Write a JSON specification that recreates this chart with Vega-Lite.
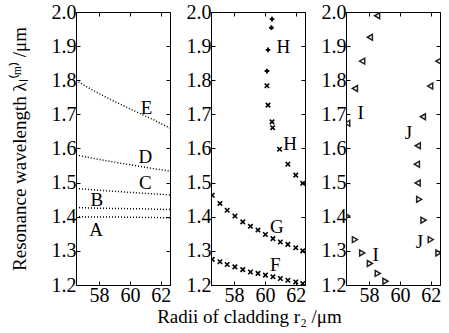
{
  "$schema": "https://vega.github.io/schema/vega-lite/v6.json",
  "padding": {"left": 9, "top": 1, "right": 2, "bottom": 2},
  "background": "white",
  "bounds": "flush",
  "config": {
    "font": "Liberation Serif",
    "view": {"stroke": "black", "strokeWidth": 1},
    "axis": {"grid": false, "labelFontSize": 20, "labelColor": "black", "domainColor": "black", "tickColor": "black", "tickSize": -4, "labelPadding": 4, "titleFontSize": 19, "titleFontWeight": "normal", "titleColor": "black", "labelFont": "Liberation Serif", "titleFont": "Liberation Serif"},
    "text": {"font": "Liberation Serif", "fontSize": 19},
    "point": {"opacity": 1}
  },
  "spacing": 41,
  "datasets": {
    "lines": [
      {"series": "E", "r": 56.5, "w": 1.800}, {"series": "E", "r": 57, "w": 1.786}, {"series": "E", "r": 57.5, "w": 1.773}, {"series": "E", "r": 58, "w": 1.761}, {"series": "E", "r": 58.5, "w": 1.749}, {"series": "E", "r": 59, "w": 1.738}, {"series": "E", "r": 59.5, "w": 1.727}, {"series": "E", "r": 60, "w": 1.716}, {"series": "E", "r": 60.5, "w": 1.706}, {"series": "E", "r": 61, "w": 1.695}, {"series": "E", "r": 61.5, "w": 1.685}, {"series": "E", "r": 62, "w": 1.673}, {"series": "E", "r": 62.6, "w": 1.660},
      {"series": "D", "r": 56.5, "w": 1.581}, {"series": "D", "r": 57.5, "w": 1.572}, {"series": "D", "r": 58.5, "w": 1.564}, {"series": "D", "r": 59.5, "w": 1.556}, {"series": "D", "r": 60.5, "w": 1.549}, {"series": "D", "r": 61.5, "w": 1.541}, {"series": "D", "r": 62.6, "w": 1.534},
      {"series": "C", "r": 56.5, "w": 1.483}, {"series": "C", "r": 57.5, "w": 1.479}, {"series": "C", "r": 58.5, "w": 1.476}, {"series": "C", "r": 59.5, "w": 1.473}, {"series": "C", "r": 60.5, "w": 1.470}, {"series": "C", "r": 61.5, "w": 1.467}, {"series": "C", "r": 62.6, "w": 1.464},
      {"series": "B", "r": 56.5, "w": 1.427}, {"series": "B", "r": 58, "w": 1.425}, {"series": "B", "r": 59.5, "w": 1.424}, {"series": "B", "r": 61, "w": 1.423}, {"series": "B", "r": 62.6, "w": 1.421},
      {"series": "A", "r": 56.5, "w": 1.400}, {"series": "A", "r": 58, "w": 1.399}, {"series": "A", "r": 59.5, "w": 1.399}, {"series": "A", "r": 61, "w": 1.398}, {"series": "A", "r": 62.6, "w": 1.397}
    ],
    "labels1": [
      {"t": "E", "r": 61.08, "w": 1.718}, {"t": "D", "r": 61.0, "w": 1.575}, {"t": "C", "r": 61.0, "w": 1.499}, {"t": "B", "r": 57.85, "w": 1.449}, {"t": "A", "r": 57.8, "w": 1.36}
    ],
    "hplus": [
      {"series": "H", "r": 60.46, "w": 1.979}, {"series": "H", "r": 60.42, "w": 1.954}, {"series": "H", "r": 60.20, "w": 1.889}, {"series": "H", "r": 60.13, "w": 1.827}
    ],
    "xpts": [
      {"series": "H", "r": 60.13, "w": 1.784}, {"series": "H", "r": 60.20, "w": 1.727}, {"series": "H", "r": 60.46, "w": 1.678}, {"series": "H", "r": 60.5, "w": 1.661}, {"series": "H", "r": 60.95, "w": 1.598}, {"series": "H", "r": 61.49, "w": 1.554}, {"series": "H", "r": 62.0, "w": 1.522}, {"series": "H", "r": 62.45, "w": 1.498},
      {"series": "G", "r": 56.58, "w": 1.463}, {"series": "G", "r": 57.08, "w": 1.439}, {"series": "G", "r": 57.55, "w": 1.419}, {"series": "G", "r": 58.05, "w": 1.402}, {"series": "G", "r": 58.56, "w": 1.385}, {"series": "G", "r": 59.06, "w": 1.372}, {"series": "G", "r": 59.55, "w": 1.361}, {"series": "G", "r": 60.03, "w": 1.348}, {"series": "G", "r": 60.52, "w": 1.336}, {"series": "G", "r": 61.0, "w": 1.326}, {"series": "G", "r": 61.49, "w": 1.319}, {"series": "G", "r": 62.0, "w": 1.309}, {"series": "G", "r": 62.45, "w": 1.300},
      {"series": "F", "r": 56.58, "w": 1.275}, {"series": "F", "r": 57.08, "w": 1.268}, {"series": "F", "r": 57.55, "w": 1.260}, {"series": "F", "r": 58.05, "w": 1.253}, {"series": "F", "r": 58.56, "w": 1.245}, {"series": "F", "r": 59.06, "w": 1.238}, {"series": "F", "r": 59.55, "w": 1.234}, {"series": "F", "r": 60.03, "w": 1.229}, {"series": "F", "r": 60.52, "w": 1.224}, {"series": "F", "r": 61.0, "w": 1.219}, {"series": "F", "r": 61.49, "w": 1.214}, {"series": "F", "r": 62.0, "w": 1.209}, {"series": "F", "r": 62.45, "w": 1.204}
    ],
    "labels2": [
      {"t": "H", "r": 61.2, "w": 1.897}, {"t": "H", "r": 61.64, "w": 1.613}, {"t": "G", "r": 60.78, "w": 1.370}, {"t": "F", "r": 60.67, "w": 1.258}
    ],
    "tleft": [
      {"series": "I", "r": 58.52, "w": 1.989}, {"series": "I", "r": 58.05, "w": 1.926}, {"series": "I", "r": 57.55, "w": 1.856}, {"series": "I", "r": 57.08, "w": 1.776}, {"series": "I", "r": 56.58, "w": 1.674},
      {"series": "J", "r": 62.5, "w": 1.856}, {"series": "J", "r": 61.96, "w": 1.783}, {"series": "J", "r": 61.49, "w": 1.693}, {"series": "J", "r": 61.16, "w": 1.608}, {"series": "J", "r": 61.1, "w": 1.554}, {"series": "J", "r": 61.15, "w": 1.499}
    ],
    "tright": [
      {"series": "I", "r": 56.58, "w": 1.402}, {"series": "I", "r": 57.08, "w": 1.333}, {"series": "I", "r": 57.55, "w": 1.294}, {"series": "I", "r": 58.05, "w": 1.263}, {"series": "I", "r": 58.56, "w": 1.234}, {"series": "I", "r": 59.06, "w": 1.211},
      {"series": "J", "r": 61.25, "w": 1.451}, {"series": "J", "r": 61.53, "w": 1.390}, {"series": "J", "r": 62.0, "w": 1.333}, {"series": "J", "r": 62.5, "w": 1.294}
    ],
    "labels3": [
      {"t": "I", "r": 57.45, "w": 1.703}, {"t": "I", "r": 58.42, "w": 1.287}, {"t": "J", "r": 60.56, "w": 1.644}, {"t": "J", "r": 61.27, "w": 1.326}
    ]
  },
  "hconcat": [
    {
      "width": 94, "height": 273,
      "resolve": {"axis": {"x": "independent", "y": "independent"}},
      "layer": [
        {
          "data": {"name": "lines"},
          "mark": {"type": "line", "clip": true, "strokeDash": [1, 2], "strokeWidth": 1.5, "color": "black"},
          "encoding": {
            "x": {"field": "r", "type": "quantitative", "scale": {"domain": [56.5, 62.6], "nice": false, "zero": false}, "axis": {"values": [58, 60, 62], "title": null, "format": "d"}},
            "y": {"field": "w", "type": "quantitative", "scale": {"domain": [1.2, 2.0], "nice": false, "zero": false}, "axis": {"values": [1.2, 1.3, 1.4, 1.5, 1.6, 1.7, 1.8, 1.9, 2.0], "format": ".1f", "title": "Resonance wavelength λₗ⁽ᵐ⁾ /μm", "titlePadding": 22}},
            "detail": {"field": "series"}
          }
        },
        {
          "data": {"name": "labels1"},
          "mark": {"type": "text", "color": "black"},
          "encoding": {
            "x": {"field": "r", "type": "quantitative", "axis": {"orient": "top", "values": [58, 60, 62], "labels": false, "title": null, "domain": false}},
            "y": {"field": "w", "type": "quantitative", "axis": {"orient": "right", "values": [1.2, 1.3, 1.4, 1.5, 1.6, 1.7, 1.8, 1.9, 2.0], "labels": false, "title": null, "domain": false}},
            "text": {"field": "t"}
          }
        }
      ]
    },
    {
      "width": 94, "height": 273,
      "resolve": {"axis": {"x": "independent", "y": "independent"}},
      "layer": [
        {
          "data": {"name": "hplus"},
          "mark": {"type": "point", "shape": "cross", "filled": true, "color": "black", "size": 22, "clip": true},
          "encoding": {
            "x": {"field": "r", "type": "quantitative", "scale": {"domain": [56.5, 62.6], "nice": false, "zero": false}, "axis": {"values": [58, 60, 62], "format": "d", "title": "Radii of cladding r₂ /μm", "titlePadding": 2, "titleX": 38}},
            "y": {"field": "w", "type": "quantitative", "scale": {"domain": [1.2, 2.0], "nice": false, "zero": false}, "axis": {"values": [1.2, 1.3, 1.4, 1.5, 1.6, 1.7, 1.8, 1.9, 2.0], "format": ".1f", "title": null}}
          }
        },
        {
          "data": {"name": "xpts"},
          "mark": {"type": "point", "shape": "M-1,-1L1,1M1,-1L-1,1", "filled": false, "color": "black", "strokeWidth": 1.6, "size": 20, "clip": true},
          "encoding": {
            "x": {"field": "r", "type": "quantitative", "axis": null},
            "y": {"field": "w", "type": "quantitative", "axis": null}
          }
        },
        {
          "data": {"name": "labels2"},
          "mark": {"type": "text", "color": "black"},
          "encoding": {
            "x": {"field": "r", "type": "quantitative", "axis": {"orient": "top", "values": [58, 60, 62], "labels": false, "title": null, "domain": false}},
            "y": {"field": "w", "type": "quantitative", "axis": {"orient": "right", "values": [1.2, 1.3, 1.4, 1.5, 1.6, 1.7, 1.8, 1.9, 2.0], "labels": false, "title": null, "domain": false}},
            "text": {"field": "t"}
          }
        }
      ]
    },
    {
      "width": 94, "height": 273,
      "resolve": {"axis": {"x": "independent", "y": "independent"}},
      "layer": [
        {
          "data": {"name": "tleft"},
          "mark": {"type": "point", "shape": "triangle-left", "filled": false, "color": "#222", "strokeWidth": 1.5, "size": 34, "clip": true},
          "encoding": {
            "x": {"field": "r", "type": "quantitative", "scale": {"domain": [56.5, 62.6], "nice": false, "zero": false}, "axis": {"values": [58, 60, 62], "title": null, "format": "d"}},
            "y": {"field": "w", "type": "quantitative", "scale": {"domain": [1.2, 2.0], "nice": false, "zero": false}, "axis": {"values": [1.2, 1.3, 1.4, 1.5, 1.6, 1.7, 1.8, 1.9, 2.0], "format": ".1f", "title": null}}
          }
        },
        {
          "data": {"name": "tright"},
          "mark": {"type": "point", "shape": "triangle-right", "filled": false, "color": "#222", "strokeWidth": 1.5, "size": 34, "clip": true},
          "encoding": {
            "x": {"field": "r", "type": "quantitative", "axis": null},
            "y": {"field": "w", "type": "quantitative", "axis": null}
          }
        },
        {
          "data": {"name": "labels3"},
          "mark": {"type": "text", "color": "black"},
          "encoding": {
            "x": {"field": "r", "type": "quantitative", "axis": {"orient": "top", "values": [58, 60, 62], "labels": false, "title": null, "domain": false}},
            "y": {"field": "w", "type": "quantitative", "axis": {"orient": "right", "values": [1.2, 1.3, 1.4, 1.5, 1.6, 1.7, 1.8, 1.9, 2.0], "labels": false, "title": null, "domain": false}},
            "text": {"field": "t"}
          }
        }
      ]
    }
  ]
}
